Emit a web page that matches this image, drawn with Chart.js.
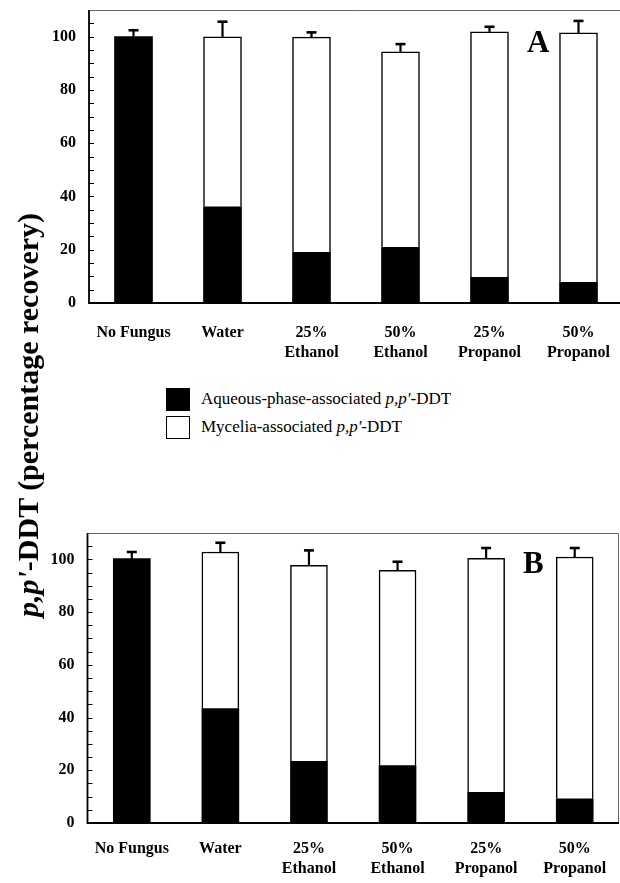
<!DOCTYPE html>
<html>
<head>
<meta charset="utf-8">
<script src="https://cdn.jsdelivr.net/npm/chart.js@4/dist/chart.umd.min.js"></script>
<style>
  html, body { margin: 0; padding: 0; background: #fff; width: 620px; height: 883px; overflow: hidden; }
  #wrap { position: relative; width: 620px; height: 883px; overflow: hidden; }
  canvas { position: absolute; left: 0; }
  #ytitle {
    position: absolute; left: 28px; top: 415px;
    transform: translate(-50%, -50%) rotate(-90deg);
    white-space: nowrap; font: bold 30px "Liberation Serif", serif; color: #000;
  }
  .letter { position: absolute; font: bold 31px/31px "Liberation Serif", serif; color: #000; }
  #legend { position: absolute; left: 166px; top: 385px; font: 17px "Liberation Serif", serif; color: #000; }
  .row { display: flex; align-items: center; height: 28px; }
  .sw { width: 24px; height: 23px; box-sizing: border-box; margin-right: 11px; }
</style>
</head>
<body>
<div id="wrap">
  <canvas id="panelA" width="623" height="370" style="top:0"></canvas>
  <canvas id="panelB" width="620" height="383" style="top:500px"></canvas>
  <div id="ytitle"><i>p,p'</i>-DDT (percentage recovery)</div>
  <div class="letter" style="left:527px; top:26px">A</div>
  <div class="letter" style="left:523px; top:547px">B</div>
  <div id="legend"></div>
</div>
<script>
// Treatments (x categories), multi-line labels
const categories = [["No Fungus"], ["Water"], ["25%", "Ethanol"], ["50%", "Ethanol"], ["25%", "Propanol"], ["50%", "Propanol"]];
const yTicks = [0, 20, 40, 60, 80, 100];

// Panel A: recovery (%) of p,p'-DDT
const aqueousA = [100, 36.1, 19.0, 20.9, 9.6, 7.8];
const myceliaA = [null, 63.8, 80.8, 73.4, 92.2, 93.6];
const errorA   = [2.4, 5.7, 1.8, 2.9, 1.9, 4.5];

// Panel B: recovery (%) of p,p'-DDT
const aqueousB = [100.3, 43.4, 23.4, 21.8, 11.6, 9.2];
const myceliaB = [null, 59.4, 74.3, 74.0, 88.8, 91.7];
const errorB   = [2.5, 3.5, 5.7, 3.3, 3.9, 3.4];

const seriesNames = ["Aqueous-phase-associated", "Mycelia-associated"];
const FONT = "'Liberation Serif', serif";

// Upward error bars drawn above each stacked total
const errorBars = {
  id: 'errorBars',
  afterDatasetsDraw(chart, args, opts) {
    const ctx = chart.ctx, y = chart.scales.y, x = chart.scales.x;
    const sets = chart.data.datasets;
    ctx.save();
    ctx.strokeStyle = '#000';
    opts.errors.forEach((e, i) => {
      const total = sets.reduce((s, d) => s + (d.data[i] || 0), 0);
      const px = x.getPixelForValue(i);
      const y0 = y.getPixelForValue(total);
      const y1 = y.getPixelForValue(total + e);
      ctx.lineWidth = 2.2;
      ctx.beginPath(); ctx.moveTo(px, y0); ctx.lineTo(px, y1); ctx.stroke();
      ctx.lineWidth = 2.6;
      ctx.beginPath(); ctx.moveTo(px - 5, y1); ctx.lineTo(px + 5, y1); ctx.stroke();
    });
    ctx.restore();
  }
};

// Plot frame with inward ticks every 5 units on the value axis
const frame = {
  id: 'frame',
  afterDatasetsDraw(chart) {
    const ctx = chart.ctx, a = chart.chartArea, y = chart.scales.y;
    ctx.save();
    ctx.strokeStyle = '#666'; ctx.lineWidth = 1;
    ctx.beginPath();
    ctx.moveTo(a.left, a.top + 0.5); ctx.lineTo(a.right - 0.5, a.top + 0.5); ctx.lineTo(a.right - 0.5, a.bottom);
    ctx.stroke();
    ctx.strokeStyle = '#000'; ctx.lineWidth = 1.8;
    ctx.beginPath();
    ctx.moveTo(a.left, a.top); ctx.lineTo(a.left, a.bottom); ctx.lineTo(a.right, a.bottom);
    ctx.stroke();
    ctx.lineWidth = 1;
    for (let v = 5; v < y.max; v += 5) {
      const py = Math.round(y.getPixelForValue(v)) + 0.5;
      ctx.beginPath(); ctx.moveTo(a.left, py); ctx.lineTo(a.left + 5, py); ctx.stroke();
    }
    ctx.restore();
  }
};

function makePanel(id, aq, my, err, d) {
  return new Chart(document.getElementById(id), {
    type: 'bar',
    data: {
      labels: categories,
      datasets: [
        { label: seriesNames[0], data: aq, backgroundColor: '#000', borderWidth: 0,
          barThickness: d.bar },
        { label: seriesNames[1], data: my, backgroundColor: '#fff', borderColor: '#000',
          borderWidth: 1.5, borderSkipped: 'bottom', barThickness: d.bar }
      ]
    },
    options: {
      responsive: false,
      animation: false,
      layout: { padding: { top: d.top, left: 0, right: d.right, bottom: 0 } },
      plugins: { legend: { display: false }, tooltip: { enabled: false }, errorBars: { errors: err } },
      scales: {
        x: {
          stacked: true,
          grid: { display: false, drawTicks: false },
          border: { display: false },
          ticks: { color: '#000', font: { family: FONT, weight: 'bold', size: 16, lineHeight: 1.25 },
                   padding: d.xpad, maxRotation: 0, autoSkip: false },
          afterFit(s) { s.height = d.xh; s.paddingLeft = 0; s.paddingRight = 0; }
        },
        y: {
          stacked: true, min: 0, max: 110,
          afterBuildTicks(s) { s.ticks = yTicks.map(v => ({ value: v })); },
          grid: { display: false, drawTicks: false },
          border: { display: false },
          ticks: { color: '#000', font: { family: FONT, weight: 'bold', size: 16 }, padding: 13 },
          afterFit(s) { s.width = d.yw; s.paddingTop = 0; s.paddingBottom = 0; }
        }
      }
    },
    plugins: [errorBars, frame]
  });
}

makePanel('panelA', aqueousA, myceliaA, errorA, { top: 10, right: 0, xh: 67, yw: 89, bar: 38, xpad: 20 });
makePanel('panelB', aqueousB, myceliaB, errorB, { top: 33, right: 1, xh: 60, yw: 87.5, bar: 37, xpad: 16 });

// Legend built from the series names
const legend = document.getElementById('legend');
[['#000', '#000'], ['#fff', '#000']].forEach((c, i) => {
  const row = document.createElement('div');
  row.className = 'row';
  const sw = document.createElement('div');
  sw.className = 'sw';
  sw.style.background = c[0];
  sw.style.border = '1.5px solid ' + c[1];
  const t = document.createElement('span');
  t.innerHTML = seriesNames[i] + ' <i>p,p\'</i>-DDT';
  row.appendChild(sw); row.appendChild(t);
  legend.appendChild(row);
});
</script>
</body>
</html>
